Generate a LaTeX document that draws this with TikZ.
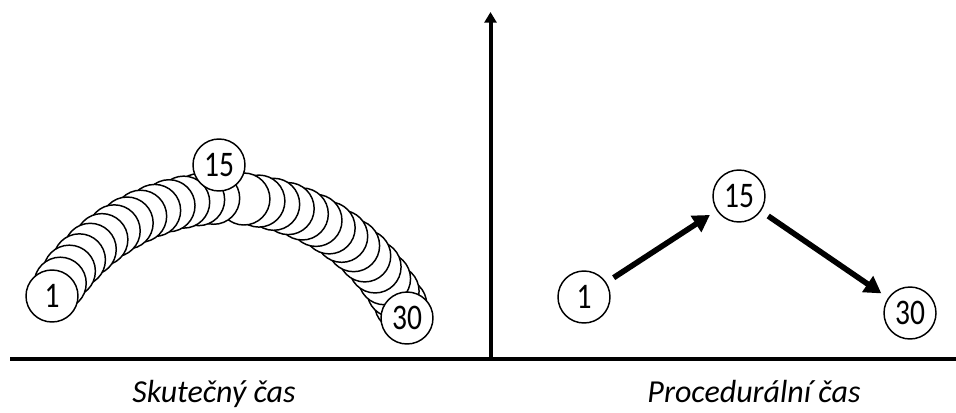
\documentclass[tikz,border=0pt]{standalone}
\usepackage{fontspec}
\setmainfont{Carlito}
\newfontfamily\numfont[FakeStretch=0.82]{Carlito}
\newfontfamily\lblfont{Carlito}
\usetikzlibrary{arrows.meta}
\begin{document}
\begin{tikzpicture}[x=0.75pt,y=-0.75pt,
  tc/.style={circle,draw,fill=white,line width=1.1pt,minimum size=39pt,inner sep=0pt,font=\numfont\fontsize{27}{27}\selectfont},
  axis/.style={line width=3pt},
  bigarrow/.style={line width=4.2pt,-{Triangle[length=12.5pt,width=14pt]},shorten <=6.5pt,shorten >=6pt},
  caption/.style={anchor=base,font=\lblfont\itshape\fontsize{24}{24}\selectfont}]
\useasboundingbox (0,0) rectangle (956,412);
% axes
\coordinate (hl) at (10,358.5);
\coordinate (hr) at (956,358.5);
\coordinate (vb) at (490.5,358.5);
\coordinate (vt) at (490.5,12);
\draw[axis] (hl) -- (hr);
\draw[axis,-{Triangle[length=8pt,width=9pt]}] (vb) -- (vt);
% left: real time, band of circles
\foreach \i in {29,28,...,2}{
  \ifnum\i=15\relax\else
    \pgfmathsetmacro\ang{149.3-(\i-1)*(149.3-23.6)/29}
    \node[tc] (c\i) at ({224+200*cos(\ang)},{398-200*sin(\ang)}) {};
  \fi
}
\node[tc] (c1) at (52,296) {1};
\node[tc] (c30) at (407,318) {30};
\node[tc] (c15) at (219,165) {15};
% right: procedural time
\node[tc] (r1) at (584,297) {1};
\node[tc] (r15) at (739,196) {15};
\node[tc] (r30) at (910,313) {30};
\draw[bigarrow] (r1) -- (r15);
\draw[bigarrow] (r15) -- (r30);
% captions
\node[caption] (capl) at (214,402) {Skutečný čas};
\node[caption] (capr) at (754,402) {Procedurální čas};
\end{tikzpicture}
\end{document}
